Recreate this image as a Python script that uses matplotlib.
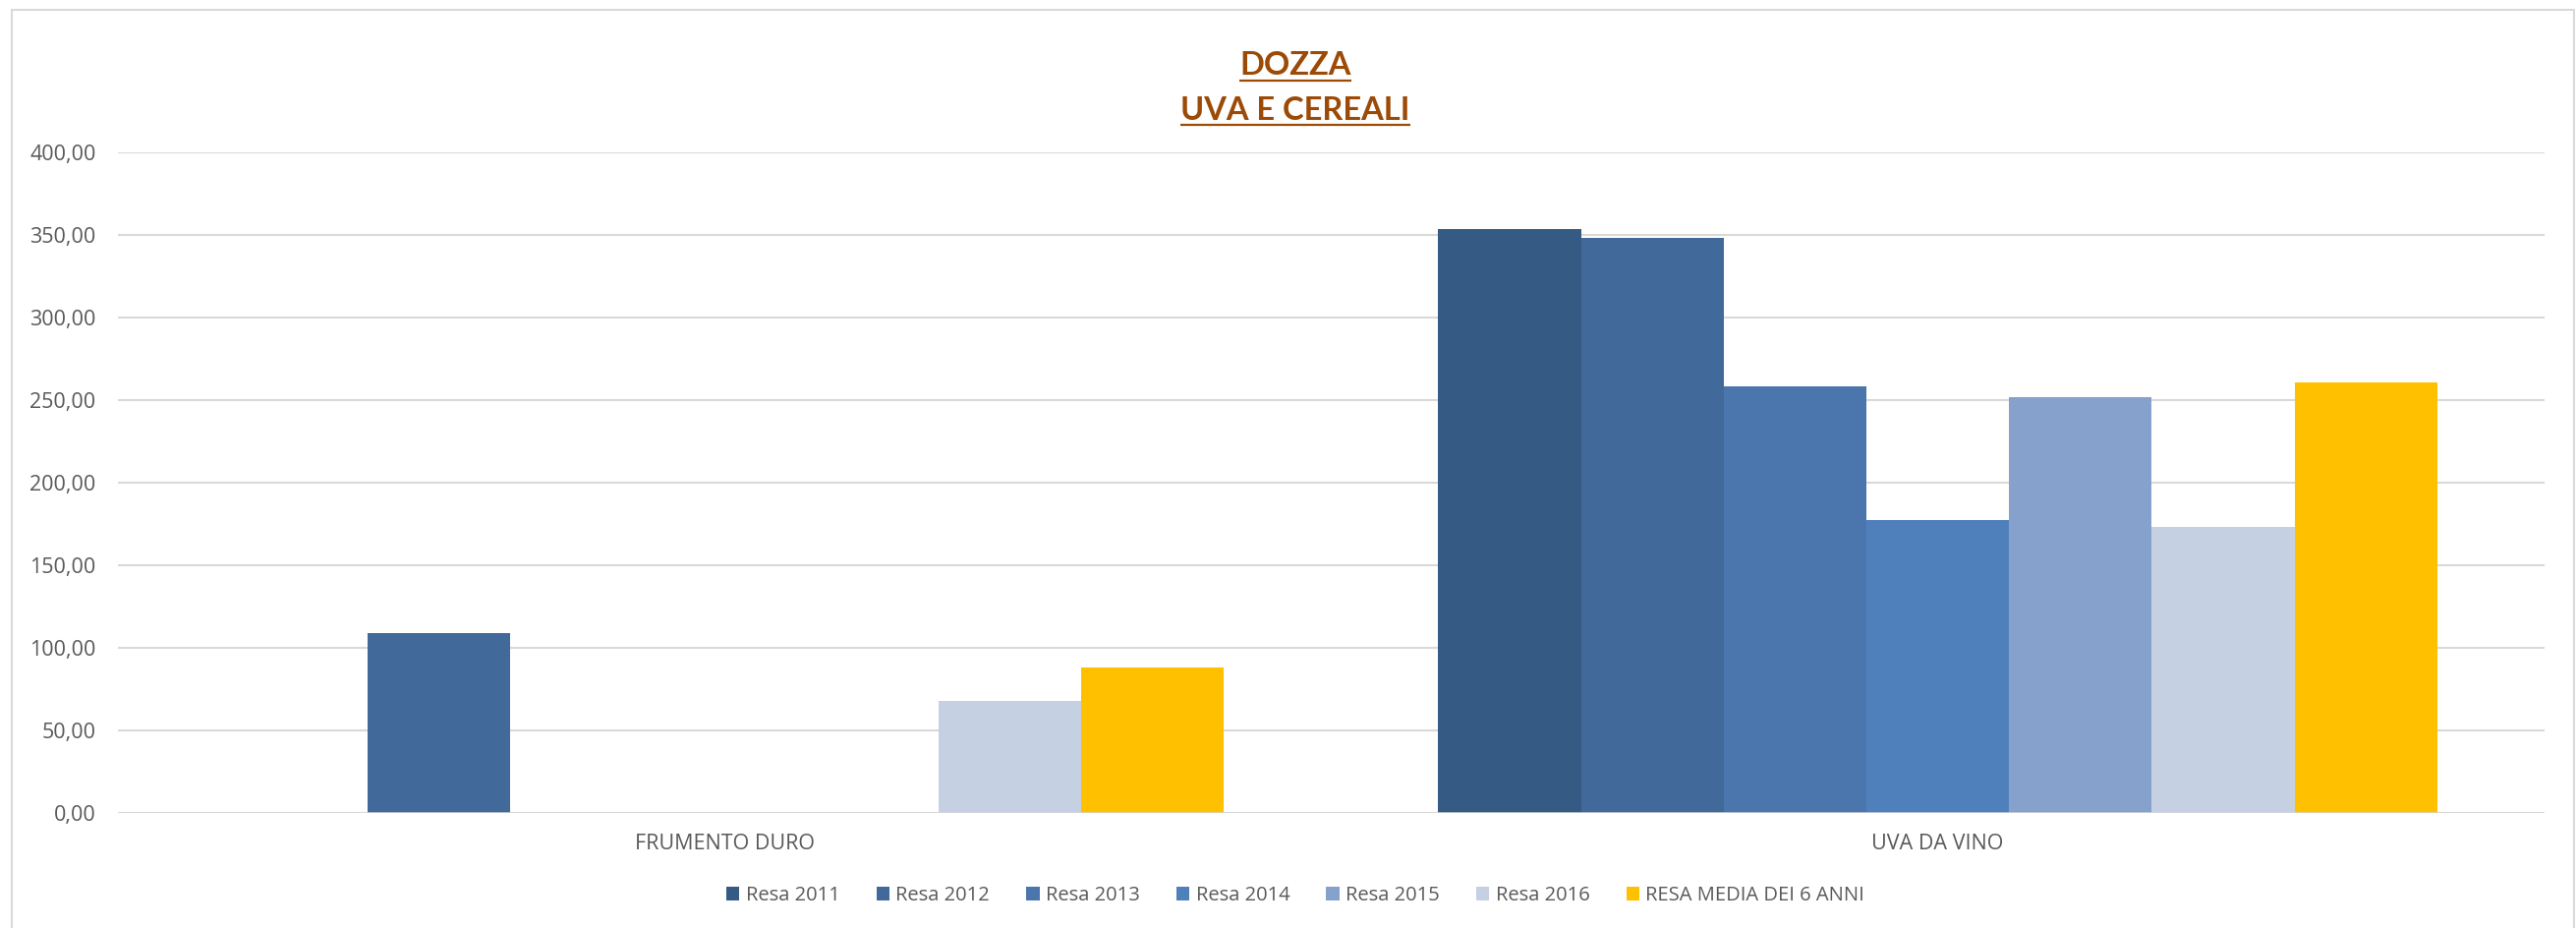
import numpy as np
import matplotlib
matplotlib.use("Agg")
import matplotlib.pyplot as plt
from matplotlib.lines import Line2D
from matplotlib.patches import Rectangle, Patch

# ---- data -------------------------------------------------------------
categories = ["FRUMENTO DURO", "UVA DA VINO"]
series_names = ["Resa 2011", "Resa 2012", "Resa 2013", "Resa 2014",
                "Resa 2015", "Resa 2016", "RESA MEDIA DEI 6 ANNI"]
resa_2011 = [np.nan, 353.4]
resa_2012 = [108.7, 348.1]
resa_2013 = [np.nan, 258.1]
resa_2014 = [np.nan, 177.0]
resa_2015 = [np.nan, 251.6]
resa_2016 = [67.7, 173.3]
resa_media = [88.2, 260.3]
y_ticks = [0, 50, 100, 150, 200, 250, 300, 350, 400]
title_lines = ["DOZZA", "UVA E CEREALI"]

series_values = [resa_2011, resa_2012, resa_2013, resa_2014,
                 resa_2015, resa_2016, resa_media]
colors = ["#355A84", "#416A9A", "#4A76AD", "#4F80BC",
          "#86A1CB", "#C5D0E2", "#FFC000"]

TEXT = "#595959"
GRID = "#D9D9D9"
FONT = ["Open Sans", "DejaVu Sans"]
plt.rcParams["font.family"] = FONT

W, H = 2621, 944
fig = plt.figure(figsize=(W / 100, H / 100), dpi=100)
fig.patch.set_facecolor("white")

# chart-area border (runs off the bottom edge)
fig.patches.append(Rectangle((12 / W, -0.05), (2619 - 12) / W, (944 - 10) / H + 0.05,
                             transform=fig.transFigure, fill=False,
                             edgecolor=GRID, lw=1.5))

ax = fig.add_axes([119.7 / W, (H - 826.7) / H, (2589 - 119.7) / W, (826.7 - 154.7) / H])

x = np.arange(len(categories))
bar_w = 0.1176
n = len(series_values)
for k, (vals, col, name) in enumerate(zip(series_values, colors, series_names)):
    ax.bar(x + (k - (n - 1) / 2) * bar_w, vals, width=bar_w, color=col,
           label=name, zorder=3, linewidth=0)

ax.set_xlim(-0.5, len(categories) - 0.5)
ax.set_ylim(0, 400)
ax.set_yticks(y_ticks)
ax.set_yticklabels([f"{v:.2f}".replace(".", ",") for v in y_ticks])
ax.set_xticks(x)
ax.set_xticklabels(categories)

for s in ax.spines.values():
    s.set_visible(False)
ax.grid(axis="y", color=GRID, lw=1.5, zorder=0)
ax.axhline(0, color=GRID, lw=1.8, zorder=4)
ax.set_axisbelow(True)
ax.tick_params(axis="y", length=0, pad=16, labelsize=15.5, labelcolor=TEXT)
ax.tick_params(axis="x", length=0, pad=15.5, labelsize=15.5, labelcolor=TEXT)

# legend
handles = [Patch(facecolor=c, edgecolor="none") for c in colors]
fig.legend(handles, series_names, loc="center", bbox_to_anchor=(1318 / W, 33 / H),
           ncol=n, frameon=False, fontsize=14.5, handlelength=0.67, handleheight=0.67,
           handletextpad=0.31, columnspacing=1.84, labelcolor=TEXT)

# title (bold, underlined)
TITLE_COLOR = "#9C4A06"
baselines = [76, 121.7]
title_texts = []
for line, yb in zip(title_lines, baselines):
    t = fig.text(1318 / W, (H - yb) / H, line, ha="center", va="baseline",
                 fontsize=23.5, fontweight="bold", color=TITLE_COLOR,
                 family=["Lato", "DejaVu Sans"])
    title_texts.append((t, yb))

fig.canvas.draw()
renderer = fig.canvas.get_renderer()
for t, yb in title_texts:
    bb = t.get_window_extent(renderer)
    yu = (H - yb - 5.7) / H
    fig.add_artist(Line2D([bb.x0 / W, bb.x1 / W], [yu, yu], transform=fig.transFigure,
                          color=TITLE_COLOR, lw=1.6, solid_capstyle="butt"))

fig.savefig("out.png", dpi=100, facecolor="white")
